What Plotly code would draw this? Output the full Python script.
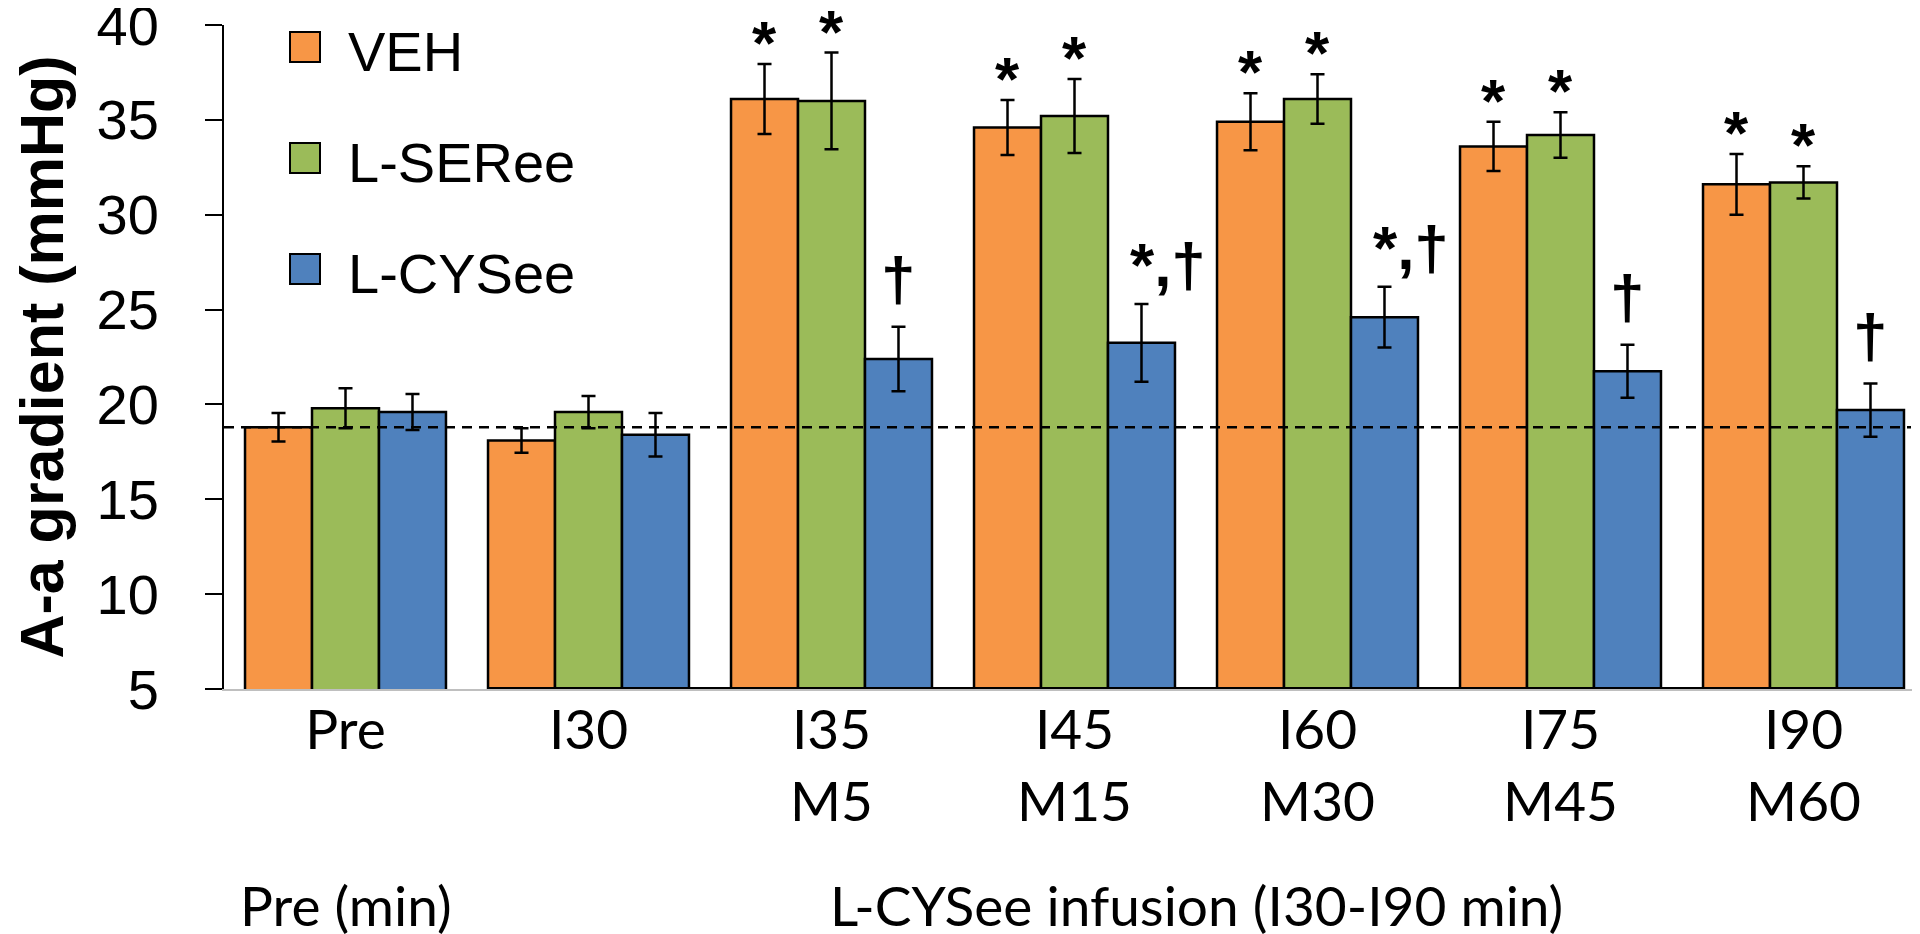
import plotly.graph_objects as go

# ---- data ----
categories = ["Pre", "I30", "I35<br>M5", "I45<br>M15", "I60<br>M30", "I75<br>M45", "I90<br>M60"]

veh = [18.8, 18.1, 36.1, 34.6, 34.9, 33.6, 31.6]
veh_se = [0.75, 0.65, 1.85, 1.45, 1.5, 1.3, 1.6]

lser = [19.8, 19.6, 36.0, 35.2, 36.1, 34.2, 31.7]
lser_se = [1.05, 0.85, 2.55, 1.95, 1.3, 1.2, 0.85]

lcys = [19.6, 18.4, 22.4, 23.25, 24.6, 21.75, 19.7]
lcys_se = [0.95, 1.15, 1.7, 2.05, 1.6, 1.4, 1.4]

veh_sig = ["", "", "*", "*", "*", "*", "*"]
lser_sig = ["", "", "*", "*", "*", "*", "*"]
lcys_sig = ["", "", "†", "*,†", "*,†", "†", "†"]

baseline = 18.8  # dashed reference line

bottom_labels = ["Pre (min)", "L-CYSee infusion (I30-I90 min)"]
bottom_label_x = [0, 3.5]

# ---- styling ----
colors = ["#F79646", "#9BBB59", "#4F81BD"]
names = ["VEH", "L-SERee", "L-CYSee"]
BARGAP = 0.173
ARIAL = "Liberation Sans, Arial, sans-serif"
CALIBRI = "Lato, Carlito, Calibri, sans-serif"

# plot area in pixels
L, R, T, B = 216, 1917, 17, 681


def px_x(p):
    return (p - L) / (R - L)


def px_y(p):
    return (B - p) / (B - T)


series = [
    (names[0], veh, veh_se, veh_sig, colors[0]),
    (names[1], lser, lser_se, lser_sig, colors[1]),
    (names[2], lcys, lcys_se, lcys_sig, colors[2]),
]

fig = go.Figure()
for name, vals, se, sig, col in series:
    fig.add_trace(go.Bar(
        x=categories, y=vals, name=name,
        marker=dict(color=col, line=dict(color="black", width=2.5)),
        error_y=dict(type="data", array=se, color="black", thickness=2.5, width=7),
        showlegend=False,
    ))

# significance marks above error bars
bar_w = (1 - BARGAP) / 3
yshift = {"*": -15, "†": 12, "*,†": 3}
for k, (name, vals, se, sig, col) in enumerate(series):
    for i, s in enumerate(sig):
        if not s:
            continue
        combo = s == "*,†"
        fig.add_annotation(
            x=i + (k - 1) * bar_w, y=vals[i] + se[i], xref="x", yref="y",
            text="<b>%s</b>" % s, showarrow=False, yanchor="bottom",
            xanchor="left" if combo else "center",
            xshift=-13 if combo else 0, yshift=yshift[s],
            font=dict(family=ARIAL, size=62, color="black"),
        )

# dashed baseline
fig.add_shape(type="line", xref="paper", yref="y", x0=0, x1=px_x(1903),
              y0=baseline, y1=baseline, layer="above",
              line=dict(color="black", width=2.5, dash="10px,7px"))

# thick black base under the infusion groups
fig.add_shape(type="line", xref="x", yref="y", x0=1 - (1 - BARGAP) / 2,
              x1=len(categories) - 1 + (1 - BARGAP) / 2, y0=5, y1=5,
              layer="above", line=dict(color="black", width=4))

# manual legend
for k, name in enumerate(names):
    cy = 39 + 111 * k
    fig.add_shape(type="rect", xref="paper", yref="paper",
                  x0=px_x(282), x1=px_x(312), y0=px_y(cy + 15), y1=px_y(cy - 15),
                  fillcolor=colors[k], line=dict(color="black", width=2))
    fig.add_annotation(x=px_x(338), y=px_y(cy + 4), xref="paper", yref="paper",
                       text=name, showarrow=False, xanchor="left", yanchor="middle",
                       font=dict(family=ARIAL, size=56, color="black"))

# bottom group labels
for txt, xx in zip(bottom_labels, bottom_label_x):
    fig.add_annotation(x=xx, y=px_y(932), xref="x", yref="paper", text=txt,
                       showarrow=False, xanchor="center", yanchor="bottom",
                       font=dict(family=CALIBRI, size=55, color="black"))

fig.update_layout(
    width=1920, height=934,
    margin=dict(l=L, r=1920 - R, t=T, b=934 - B),
    barmode="group", bargap=BARGAP, bargroupgap=0,
    plot_bgcolor="white", paper_bgcolor="white",
    showlegend=False,
)
fig.update_xaxes(
    type="category", range=[-0.5, len(categories) - 0.5], automargin=False,
    showline=True, linecolor="#BFBFBF", linewidth=2,
    ticks="", showgrid=False, zeroline=False,
    tickfont=dict(family=CALIBRI, size=55, color="black"),
    ticklabelstandoff=-8, ticklabeloverflow="allow",
)
fig.update_yaxes(
    range=[5, 40], tickvals=[5, 10, 15, 20, 25, 30, 35, 40], automargin=False,
    ticklabeloverflow="allow",
    showline=True, linecolor="black", linewidth=2,
    ticks="outside", ticklen=17, tickwidth=2, tickcolor="black",
    showgrid=False, zeroline=False,
    tickfont=dict(family=ARIAL, size=56, color="black"),
    ticklabelstandoff=35,
    title=dict(text="A-a gradient (mmHg)", standoff=25,
               font=dict(family=ARIAL, size=61, color="black", weight="bold")),
)

fig.write_html("out.html")
